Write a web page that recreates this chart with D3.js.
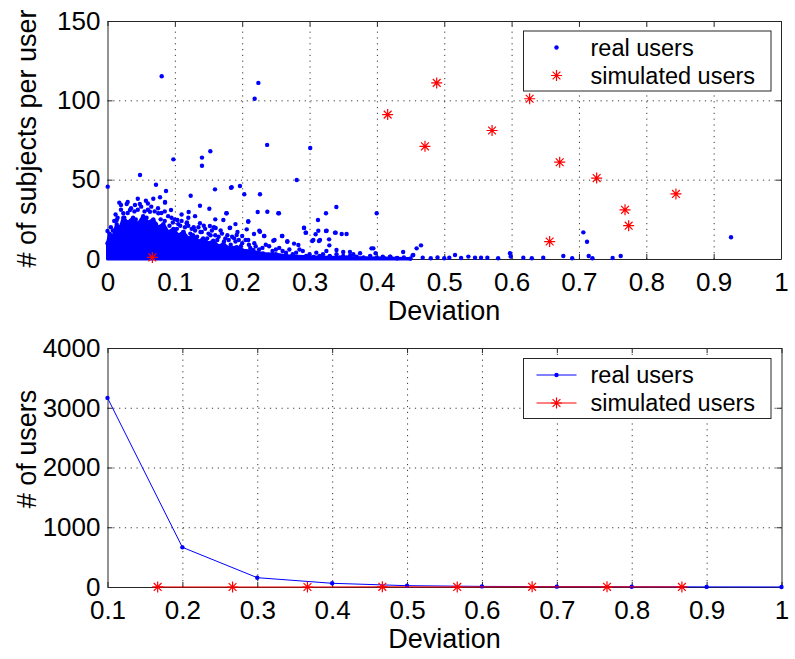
<!DOCTYPE html>
<html><head><meta charset="utf-8">
<script src="https://cdn.jsdelivr.net/npm/d3@7"></script>
<style>
html,body{margin:0;padding:0;background:#fff;}
svg{display:block;}
</style></head>
<body>
<svg id="chart" width="795" height="659"></svg>
<script>
// ---------- DATA ----------
const topXTicks = [0,0.1,0.2,0.3,0.4,0.5,0.6,0.7,0.8,0.9,1];
const topXTickLabels = ["0","0.1","0.2","0.3","0.4","0.5","0.6","0.7","0.8","0.9","1"];
const topYTicks = [0,50,100,150];
const topYTickLabels = ["0","50","100","150"];

const bottomXTicks = [0.1,0.2,0.3,0.4,0.5,0.6,0.7,0.8,0.9,1];
const bottomXTickLabels = ["0.1","0.2","0.3","0.4","0.5","0.6","0.7","0.8","0.9","1"];
const bottomYTicks = [0,1000,2000,3000,4000];
const bottomYTickLabels = ["0","1000","2000","3000","4000"];

const seriesNames = ["real users","simulated users"];

// dense cloud of real users (upper envelope of the solid region): [deviation, subjects]
const realUsersDenseEnvelope = [
  [0,10],[0.003,16],[0.008,14],[0.0136,22],[0.018,19],[0.0235,26],[0.03,23],[0.038,26],[0.045,22],
  [0.053,27],[0.06,23],[0.068,25],[0.075,20],[0.083,22],[0.09,17],[0.098,19],[0.105,15],[0.1125,17],
  [0.12,13],[0.127,15],[0.135,11],[0.142,13],[0.15,10],[0.157,11.5],[0.165,8],[0.172,9.5],[0.18,7],
  [0.192,7.5],[0.2,5.5],[0.215,5],[0.231,3.5],[0.25,3],[0.266,2],[0.306,1.3],[0.355,0.9],[0.43,0.5],[0.45,0.3]
];

// individual real users around the dense cloud: [deviation, subjects]
const realUsersEdge = [
  [0.005,20],[0.01,24],[0.012,28],[0.02,31],[0.025,26],[0.03,29],[0.035,32],[0.04,30],[0.045,31],
  [0.05,33],[0.055,30],[0.06,31],[0.065,33],[0.07,30],[0.075,32],[0.08,29],[0.085,30],[0.09,27],
  [0.095,26],[0.1,25],[0.105,22],[0.11,24],[0.115,20],[0.12,21],[0.125,19],[0.13,18],[0.135,20],
  [0.14,17],[0.145,19],[0.15,16],[0.155,18],[0.16,15],[0.165,14],[0.17,16],[0.175,13],[0.18,12],
  [0.185,14],[0.19,11],[0.195,12],[0.2,10],[0.21,9],[0.22,8],[0.23,7],[0.24,8],[0.25,6],[0.26,5],
  [0.27,6],[0.28,4],[0.29,5],[0.3,3],[0.31,4],[0.32,3],[0.33,2],[0.34,3],[0.35,2],[0.36,2],
  [0.37,1.5],[0.38,1],[0.39,2],[0.4,1],[0.41,0.8],[0.42,1.5],[0.43,0.6],[0.44,1],
  [0.085,24],[0.092,21],[0.097,23],[0.103,19],[0.108,21],[0.113,17],[0.118,23],[0.123,16],[0.128,20],
  [0.133,14],[0.138,17],[0.143,21],[0.148,13],[0.153,15],[0.158,20],[0.163,12],[0.168,18],[0.173,11],
  [0.178,15],[0.183,9],[0.188,13],[0.193,17],[0.198,8],[0.205,12],[0.212,7],[0.218,10],[0.225,6],
  [0.235,9],[0.245,5],[0.255,7],[0.265,4],[0.275,3],[0.285,6],[0.295,2],[0.315,2],[0.325,5],[0.345,1],
  [0.365,3],[0.02,34],[0.03,36],[0.045,38],[0.06,35],[0.068,38],[0.11,28],[0.12,26],[0.13,27],
  [0.16,25],[0.19,22],[0.008,18],[0.015,26],[0.028,21],[0.042,25],[0.058,26],[0.072,22],[0.079,25]
];

const realUsersScattered = [
  [0.0805,115.2],[0.224,111],[0.2185,101],[0.237,71.9],[0.301,70],[0.0978,62.8],[0.1403,63.9],
  [0.1403,58.8],[0.1527,67.9],[0.0483,52.9],[0.0003,45.6],[0.281,49.8],[0.072,46.8],[0.0869,42.9],
  [0.078,38.9],[0.1235,39.9],[0.1596,43.9],[0.1834,44.9],[0.1967,46],[0.2031,40.8],[0.2264,40.8],
  [0.0943,30.9],[0.0854,35.9],[0.1205,29.6],[0.1373,33.6],[0.1512,31.7],[0.1764,28.8],[0.223,29.6],
  [0.2536,28.8],[0.3398,32.8],[0.3244,28.8],[0.3125,24.6],[0.2918,19.5],[0.2942,16.6],[0.3997,28.8],
  [0.209,23.8],[0.1814,19.5],[0.1606,19.5],[0.248,12],[0.259,14.5],[0.267,11.2],[0.277,9.7],
  [0.313,17.8],[0.3254,17.8],[0.3378,16.6],[0.3477,15.8],[0.355,15.8],[0.2254,17.8],[0.2324,14.5],
  [0.2,14.5],[0.3056,12],[0.3155,12],[0.3294,8.6],[0.34,5.7],[0.35,4.4],[0.36,4.4],[0.375,3.6],
  [0.392,6.7],[0.4086,1.5],[0.4195,1.5],[0.439,4.4],[0.453,2.3],[0.459,6.7],[0.4655,8.6],[0.468,0.8],
  [0.454,2.5],[0.5075,0.8],[0.516,2.5],[0.5358,1.5],[0.5457,0.8],[0.5546,0.8],[0.564,0.8],
  [0.5976,3.6],[0.5987,1.5],[0.6174,0.8],[0.647,0.8],[0.6768,1.9],[0.7065,16.8],[0.712,10.9],
  [0.7145,1.9],[0.762,1.9],[0.9258,13.7],
  [0.0175,35.5],[0.0285,34.7],[0.0408,34],[0.048,34.7],[0.057,36.7],[0.0854,35.5],[0,17.6],
  [0.0137,24.6],[0.0235,28.8],[0.0334,30.9],[0.063,29.8],[0.0755,28.8],[0.1037,24.6],[0.1176,22.5],
  [0.1373,22.5],[0.152,20.8],[0.172,24.6],[0.177,28.8],[0.1844,45.2],[0.2373,29.8],[0.2546,28.8],
  [0.209,23.5],[0.2067,18.7],[0.2175,15.8],[0.2264,17.2],[0.2329,14.5],[0.2462,11.5],[0.2596,14.5],
  [0.267,10.9],[0.2834,8.8],[0.2918,19.7],[0.2947,16.6],[0.304,11.3],[0.309,15.6],[0.314,11.3],
  [0.3244,17.6],[0.329,12.4],[0.3388,16.6],[0.398,3.6],[0.3947,6.7],[0.182,19.7],[0.1918,15.1],
  [0.209,12],[0.2165,5.7],[0.48,0.5],[0.49,1],[0.5,0.5],[0.525,0.6],[0.58,0.5],[0.63,0.5],[0.69,0.5],
  [0.72,0.5],[0.75,0.6]
];

// simulated users: [deviation, subjects]
const simulatedUsers = [
  [0.0666,1],[0.6565,11],[0.7738,21],[0.7684,31],[0.844,41],[0.7263,51],
  [0.6714,61],[0.4714,71],[0.571,81],[0.416,91],[0.6268,101],[0.4888,111]
];

// histogram (bottom)
const realHistX = [0.1,0.2,0.3,0.4,0.5,0.6,0.7,0.8,0.9,1.0];
const realHistCounts = [3165,664,156,62,22,10,6,4,2,1];
const simHistX = [0.167,0.267,0.367,0.467,0.567,0.667,0.767,0.867];
const simHistCounts = [1,0,0,3,1,3,3,1];

// ---------- DRAWING ----------
const svg = d3.select("#chart");
const FONT = "'Liberation Sans', Arial, Helvetica, sans-serif";
const BLUE = "#0000ff", RED = "#ff0000", FRAME = "#262626";

svg.append("rect").attr("width",795).attr("height",659).attr("fill","#fff");

const starPath = "M-5.5,0H5.5M0,-5.5V5.5M-3.9,-3.9L3.9,3.9M-3.9,3.9L3.9,-3.9";

function panel(cfg){
  const {x, y, xTicks, xLabels, yTicks, yLabels} = cfg;
  const [x0,x1] = x.range(), [y0,y1] = y.range();
  const g = svg.append("g");

  const gridV = g.append("g").attr("transform",`translate(0,${y0})`)
    .call(d3.axisBottom(x).tickValues(xTicks.filter(t=>t!==x.domain()[0]&&t!==x.domain()[1]))
      .tickSize(-(y0-y1)).tickFormat(""));
  const gridH = g.append("g").attr("transform",`translate(${x0},0)`)
    .call(d3.axisLeft(y).tickValues(yTicks.filter(t=>t!==y.domain()[0]&&t!==y.domain()[1]))
      .tickSize(-(x1-x0)).tickFormat(""));
  [gridV,gridH].forEach(a=>{
    a.select(".domain").remove();
    a.selectAll("line").attr("stroke","#222").attr("stroke-width",0.9).attr("stroke-dasharray","1.2,4.6");
  });

  const axB = g.append("g").attr("transform",`translate(0,${y0})`)
    .call(d3.axisBottom(x).tickValues(xTicks).tickSize(-5).tickSizeOuter(0).tickPadding(14)
      .tickFormat((d,i)=>xLabels[i]));
  const axT = g.append("g").attr("transform",`translate(0,${y1})`)
    .call(d3.axisTop(x).tickValues(xTicks).tickSize(-5).tickSizeOuter(0).tickFormat(""));
  const axL = g.append("g").attr("transform",`translate(${x0},0)`)
    .call(d3.axisLeft(y).tickValues(yTicks).tickSize(-5).tickSizeOuter(0).tickPadding(7)
      .tickFormat((d,i)=>yLabels[i]));
  const axR = g.append("g").attr("transform",`translate(${x1},0)`)
    .call(d3.axisRight(y).tickValues(yTicks).tickSize(-5).tickSizeOuter(0).tickFormat(""));
  [axB,axT,axL,axR].forEach(a=>{
    a.attr("font-family",FONT).attr("font-size",26);
    a.select(".domain").attr("stroke",FRAME).attr("stroke-width",1);
    a.selectAll("line").attr("stroke",FRAME).attr("stroke-width",1);
    a.selectAll("text").attr("fill","#000");
  });
  return g;
}

// ---- Top panel ----
const xTop = d3.scaleLinear().domain([0,1]).range([107.5,781]);
const yTop = d3.scaleLinear().domain([0,150]).range([259,21]);
panel({x:xTop,y:yTop,xTicks:topXTicks,xLabels:topXTickLabels,yTicks:topYTicks,yLabels:topYTickLabels});

const dataLayer = svg.append("g");
const area = d3.area().x(d=>xTop(d[0])).y0(yTop(0)).y1(d=>yTop(d[1])).curve(d3.curveLinear);
dataLayer.append("path").datum(realUsersDenseEnvelope).attr("d",area).attr("fill",BLUE)
  .attr("stroke",BLUE).attr("stroke-width",3).attr("stroke-linejoin","round");
dataLayer.append("g").selectAll("circle").data(realUsersDenseEnvelope.concat(realUsersEdge, realUsersScattered))
  .join("circle").attr("cx",d=>xTop(d[0])).attr("cy",d=>yTop(d[1])).attr("r",2.2).attr("fill",BLUE);
dataLayer.append("g").selectAll("path").data(simulatedUsers).join("path")
  .attr("transform",d=>`translate(${xTop(d[0])},${yTop(d[1])})`).attr("d",starPath)
  .attr("stroke",RED).attr("stroke-width",1.2).attr("fill","none");

function legend(x,y,withLine){
  const lg = svg.append("g").attr("transform",`translate(${x},${y})`);
  lg.append("rect").attr("width",247.5).attr("height",60).attr("fill","#fff").attr("stroke",FRAME).attr("stroke-width",1);
  const rows=[{c:BLUE,yy:16.5,t:seriesNames[0],m:"dot"},{c:RED,yy:44.5,t:seriesNames[1],m:"star"}];
  rows.forEach(r=>{
    if(withLine) lg.append("line").attr("x1",13).attr("x2",53).attr("y1",r.yy).attr("y2",r.yy).attr("stroke",r.c).attr("stroke-width",1);
    if(r.m==="dot") lg.append("circle").attr("cx",33).attr("cy",r.yy).attr("r",2.2).attr("fill",r.c);
    else lg.append("path").attr("transform",`translate(33,${r.yy})`).attr("d",starPath).attr("stroke",r.c).attr("stroke-width",1.2).attr("fill","none");
    lg.append("text").attr("x",67).attr("y",r.yy+8.3).attr("font-family",FONT).attr("font-size",23.5).attr("fill","#000").text(r.t);
  });
}
legend(523.5,31,false);

svg.append("text").attr("x",444).attr("y",319.5).attr("text-anchor","middle").attr("font-family",FONT).attr("font-size",27).text("Deviation");
svg.append("text").attr("transform","translate(36,138.5) rotate(-90)").attr("text-anchor","middle").attr("font-family",FONT).attr("font-size",27).text("# of subjects per user");

// ---- Bottom panel ----
const xBot = d3.scaleLinear().domain([0.1,1]).range([107.5,781.5]);
const yBot = d3.scaleLinear().domain([0,4000]).range([587,348]);
panel({x:xBot,y:yBot,xTicks:bottomXTicks,xLabels:bottomXTickLabels,yTicks:bottomYTicks,yLabels:bottomYTickLabels});

const realLine = realHistX.map((d,i)=>[d,realHistCounts[i]]);
const simLine = simHistX.map((d,i)=>[d,simHistCounts[i]]);
const line = d3.line().x(d=>xBot(d[0])).y(d=>yBot(d[1]));
svg.append("path").datum(realLine).attr("d",line).attr("fill","none").attr("stroke",BLUE).attr("stroke-width",1);
svg.append("g").selectAll("circle").data(realLine).join("circle")
  .attr("cx",d=>xBot(d[0])).attr("cy",d=>yBot(d[1])).attr("r",2.2).attr("fill",BLUE);
svg.append("path").datum(simLine).attr("d",line).attr("fill","none").attr("stroke",RED).attr("stroke-width",1);
svg.append("g").selectAll("path").data(simLine).join("path")
  .attr("transform",d=>`translate(${xBot(d[0])},${yBot(d[1])})`).attr("d",starPath)
  .attr("stroke",RED).attr("stroke-width",1.2).attr("fill","none");

legend(523.5,358.5,true);

svg.append("text").attr("x",444.5).attr("y",647.5).attr("text-anchor","middle").attr("font-family",FONT).attr("font-size",27).text("Deviation");
svg.append("text").attr("transform","translate(36,449) rotate(-90)").attr("text-anchor","middle").attr("font-family",FONT).attr("font-size",27).text("# of users");
</script>
</body></html>
